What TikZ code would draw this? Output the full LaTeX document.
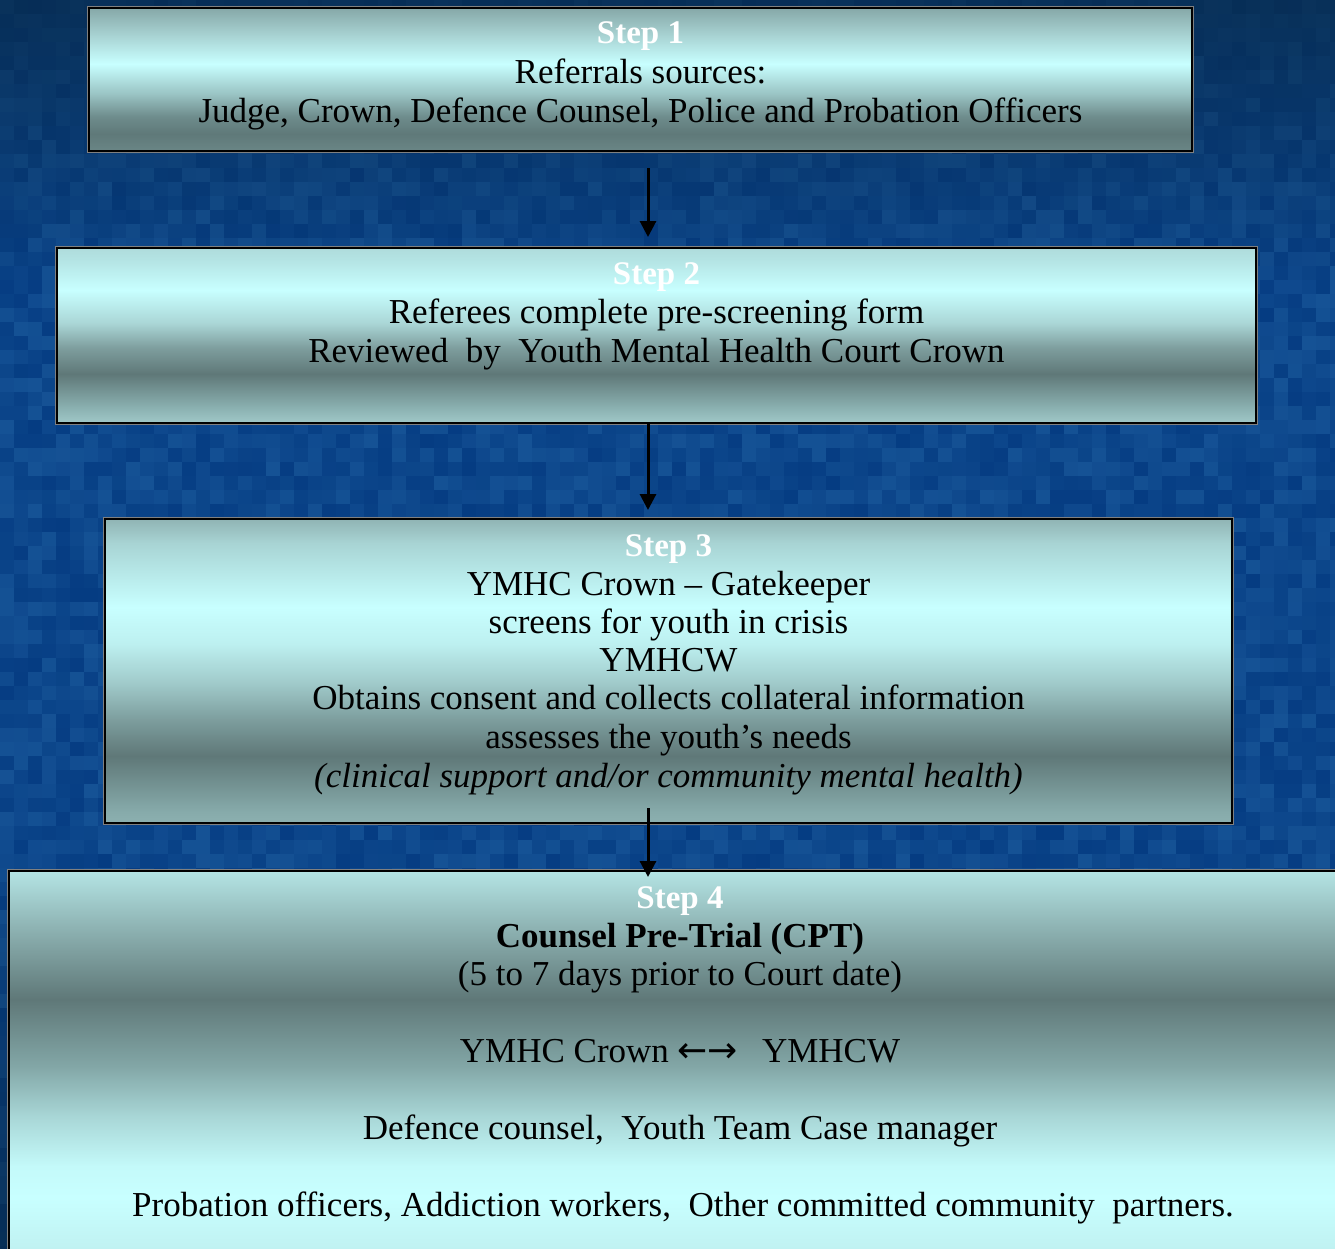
\documentclass[tikz,border=0pt]{standalone}
\usepackage{fontspec}
\setmainfont{Liberation Serif}
\newfontfamily\symf{DejaVu Sans}
\usetikzlibrary{arrows.meta,calc}
\definecolor{bgD}{HTML}{053C82}
\definecolor{bgL}{HTML}{155295}
\definecolor{navyD}{HTML}{062848}
% box 1 shading colours
\definecolor{aA}{HTML}{6A8686}\definecolor{aB}{HTML}{5F7979}\definecolor{aC}{HTML}{6E8C8C}
\definecolor{aD}{HTML}{9AC4C4}\definecolor{aE}{HTML}{C8FFFF}\definecolor{aF}{HTML}{A6D0D0}\definecolor{aG}{HTML}{86A8A8}
% box 2
\definecolor{bA}{HTML}{A0C8C8}\definecolor{bB}{HTML}{8AB0B0}\definecolor{bC}{HTML}{5F7878}\definecolor{bD}{HTML}{7E9E9E}
\definecolor{bE}{HTML}{AAD6D6}\definecolor{bF}{HTML}{C8FFFF}\definecolor{bG}{HTML}{B4E4E4}\definecolor{bH}{HTML}{AFDCDC}
% box 3
\definecolor{cA}{HTML}{8CB0B0}\definecolor{cB}{HTML}{86AAAA}\definecolor{cC}{HTML}{5F7878}\definecolor{cD}{HTML}{7A9A9A}
\definecolor{cE}{HTML}{A0CACA}\definecolor{cF}{HTML}{BDF0F0}\definecolor{cG}{HTML}{C8FFFF}\definecolor{cH}{HTML}{A8D4D4}\definecolor{cI}{HTML}{90B4B4}
% box 4
\definecolor{dA}{HTML}{BFF0F0}\definecolor{dB}{HTML}{C0F2F2}\definecolor{dC}{HTML}{C8FFFF}\definecolor{dD}{HTML}{C4FAFA}
\definecolor{dE}{HTML}{A8D6D6}\definecolor{dF}{HTML}{82A6A6}\definecolor{dG}{HTML}{5F7878}\definecolor{dH}{HTML}{8AAEAE}\definecolor{dI}{HTML}{B4E4E4}
\pgfdeclareverticalshading{shA}{100bp}{color(0bp)=(aA); color(25bp)=(aA); color(31bp)=(aB); color(37bp)=(aC); color(45bp)=(aD); color(55.5bp)=(aE); color(66bp)=(aF); color(75bp)=(aG); color(100bp)=(aG)}
\pgfdeclareverticalshading{shB}{100bp}{color(0bp)=(bA); color(25bp)=(bA); color(29.5bp)=(bB); color(39bp)=(bC); color(46.5bp)=(bD); color(53.5bp)=(bE); color(63bp)=(bF); color(71.5bp)=(bG); color(75bp)=(bH); color(100bp)=(bH)}
\pgfdeclareverticalshading{shC}{100bp}{color(0bp)=(cA); color(25bp)=(cA); color(27bp)=(cB); color(36bp)=(cC); color(41.5bp)=(cD); color(48bp)=(cE); color(54.5bp)=(cF); color(60.5bp)=(cG); color(71bp)=(cH); color(75bp)=(cI); color(100bp)=(cI)}
\pgfdeclareverticalshading{shD}{100bp}{color(0bp)=(dA); color(25bp)=(dA); color(26.5bp)=(dB); color(33bp)=(dC); color(37bp)=(dD); color(43.5bp)=(dE); color(50bp)=(dF); color(58.5bp)=(dG); color(67bp)=(dH); color(75bp)=(dI); color(100bp)=(dI)}
\tikzset{
  stepbox/.style={rectangle, inner sep=0pt, draw=black, line width=2pt,
    preaction={draw=black!50, line width=3.5pt}},
  txt/.style={anchor=base, inner sep=0pt, text=black, font=\fontsize{35}{40}\selectfont},
  stp/.style={anchor=base, inner sep=0pt, text=white, font=\fontsize{33}{38}\selectfont\bfseries},
  arr/.style={line width=3pt, draw=black, -{Triangle[length=16pt,width=16pt]}}
}
\begin{document}
\begin{tikzpicture}[x=1pt,y=-1pt]
\useasboundingbox (0,0) rectangle (1335,1248);
\clip (0,0) rectangle (1335,1248);
% mosaic background
\pgfmathsetseed{7}
\foreach \i in {0,...,95}{
  \foreach \j in {0,...,89}{
    \pgfmathsetmacro\r{rnd*100}
    \pgfmathsetmacro\t{max(0,1-\j*14/280)*75}
    \pgfmathsetmacro\u{max(0,(\j*14-850)/400)*max(0,1-\i*14/30)*80}
    \colorlet{mA}{bgL!\r!bgD}
    \colorlet{mB}{navyD!\t!mA}
    \colorlet{mC}{navyD!\u!mB}
    \fill[mC] (\i*14,\j*14) rectangle ++(14.4,14.4);
  }
}
% boxes
\node[stepbox, shading=shA, minimum width=1103pt, minimum height=143pt] (b1) at (640.5,79.5) {};
\node[stepbox, shading=shB, minimum width=1199pt, minimum height=175pt] (b2) at (656.5,335.5) {};
\node[stepbox, shading=shC, minimum width=1127pt, minimum height=304pt] (b3) at (668.5,671) {};
\node[stepbox, shading=shD, minimum width=1342pt, minimum height=389pt] (b4) at (680,1065.5) {};
\coordinate (ax) at (648,0);
% connectors
\draw[arr] ($(b1.south -| ax)+(0,16)$) -- ($(b2.north -| ax)+(0,-10)$);
\draw[arr] (b2.south -| ax) -- ($(b3.north -| ax)+(0,-8)$);
\draw[arr] ($(b3.south -| ax)+(0,-16)$) -- ($(b4.north -| ax)+(0,7)$);
% texts box 1
\node[stp] (t1) at (640.5,43) {Step 1};
\node[txt] (t1a) at (640.5,83) {Referrals sources:};
\node[txt] (t1b) at (640.5,122) {Judge, Crown, Defence Counsel, Police and Probation Officers};
% box 2
\node[stp] (t2) at (656.5,284) {Step 2};
\node[txt] (t2a) at (656.5,323) {Referees complete pre-screening form};
\node[txt] (t2b) at (656.5,362) {Reviewed\ \ by\ \ Youth Mental Health Court Crown};
% box 3
\node[stp] (t3) at (668.5,556) {Step 3};
\node[txt] (t3a) at (668.5,595) {YMHC Crown – Gatekeeper};
\node[txt] (t3b) at (668.5,633) {screens for youth in crisis};
\node[txt] (t3c) at (668.5,671) {YMHCW};
\node[txt] (t3d) at (668.5,709) {Obtains consent and collects collateral information};
\node[txt] (t3e) at (668.5,748) {assesses the youth’s needs};
\node[txt] (t3f) at (668.5,787) {\itshape (clinical support and/or community mental health)};
% box 4
\node[stp] (t4) at (680,908) {Step 4};
\node[txt] (t4a) at (680,947) {\bfseries Counsel Pre-Trial (CPT)};
\node[txt] (t4b) at (680,985) {(5 to 7 days prior to Court date)};
\node[txt] (t4c) at (680,1062) {YMHC Crown {\symf\fontsize{36}{40}\selectfont ←→}\hspace{24pt}YMHCW};
\node[txt] (t4d) at (680,1139) {Defence counsel,\ \ Youth Team Case manager};
\node[txt] (t4e) at (683,1216) {Probation officers, Addiction workers,\ \ Other committed community\ \ partners.};
\end{tikzpicture}
\end{document}
